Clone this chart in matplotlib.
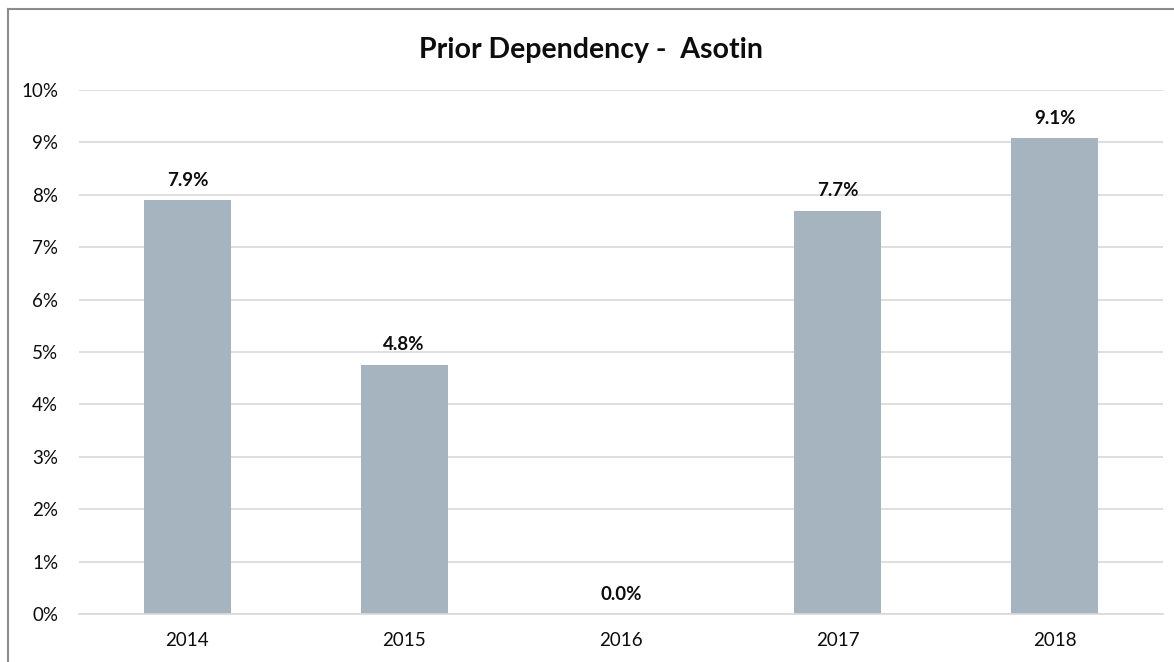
import matplotlib.pyplot as plt
from matplotlib.lines import Line2D
from matplotlib.ticker import FuncFormatter

years = ["2014", "2015", "2016", "2017", "2018"]
rates = [7.9, 4.76, 0.0, 7.7, 9.08]  # percent

bar_color = "#A5B4BF"
grid_color = "#D9D9D9"

plt.rcParams["font.family"] = ["Lato", "DejaVu Sans"]

fig = plt.figure(figsize=(11.74, 6.62), dpi=100)
ax = fig.add_axes([0.0673, 0.0725, 0.9233, 0.7915])

x = range(len(years))
bars = ax.bar(x, rates, width=0.4, color=bar_color, zorder=2)

for b, v in zip(bars, rates):
    ax.annotate(f"{v:.1f}%", (b.get_x() + b.get_width() / 2, v),
                xytext=(0, 8), textcoords="offset points",
                ha="center", va="bottom", fontsize=13.5, fontweight="bold",
                color="#0d0d0d")

ax.set_xlim(-0.5, len(years) - 0.5)
ax.set_ylim(0, 10)
ax.set_yticks(range(0, 11))
ax.yaxis.set_major_formatter(FuncFormatter(lambda v, _: f"{v:.0f}%"))
ax.set_xticks(list(x))
ax.set_xticklabels(years)
ax.tick_params(axis="both", length=0, labelsize=13.5, colors="#0d0d0d")
ax.tick_params(axis="y", pad=15)
ax.tick_params(axis="x", pad=13)
ax.grid(axis="y", color=grid_color, linewidth=1.2, zorder=0)
for s in ["top", "right", "left"]:
    ax.spines[s].set_visible(False)
ax.spines["bottom"].set_color(grid_color)
ax.spines["bottom"].set_linewidth(1.2)

fig.text(0.503, 0.925, "Prior Dependency -  Asotin", ha="center", va="center",
         fontsize=20.5, fontweight="bold", color="#0d0d0d")

# chart frame, only its left and top edges fall inside the image
fig.add_artist(Line2D([0.0065, 0.0065], [0, 0.986], transform=fig.transFigure,
                      color="#8c8c8c", linewidth=1.5))
fig.add_artist(Line2D([0.0065, 1.0], [0.986, 0.986], transform=fig.transFigure,
                      color="#8c8c8c", linewidth=1.5))

fig.savefig("out.png", dpi=100)
